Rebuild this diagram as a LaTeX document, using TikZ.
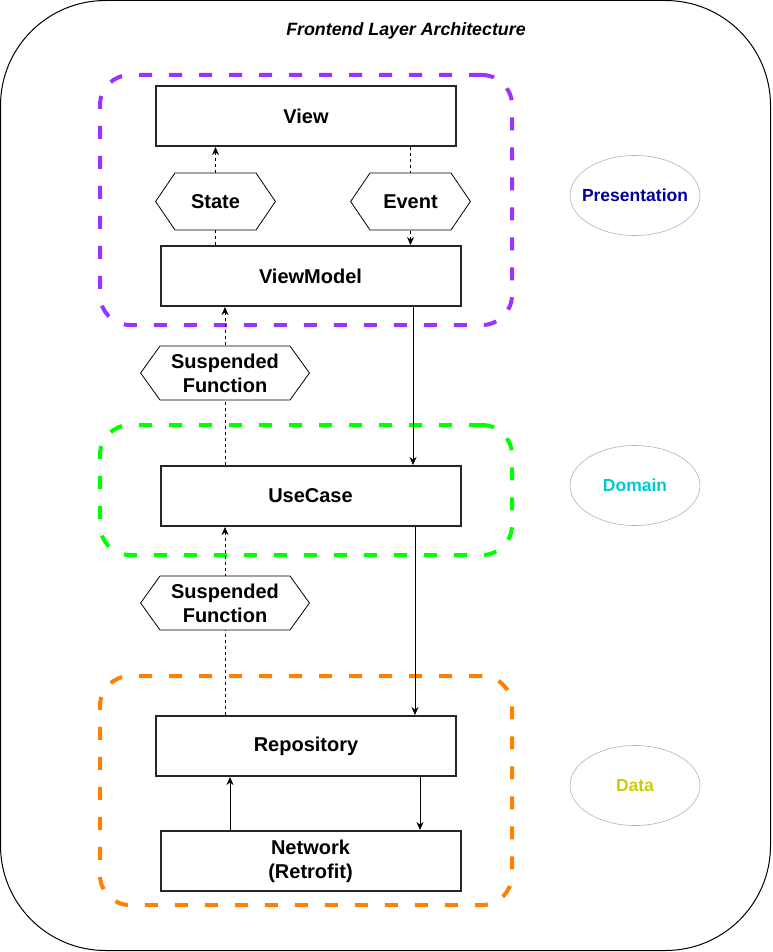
\documentclass[tikz,border=0pt]{standalone}
\usepackage{fontspec}
\setmainfont{Liberation Sans}
\usetikzlibrary{arrows.meta,shapes.geometric}
\pgfdeclarelayer{background}
\pgfsetlayers{background,main}

\definecolor{grpPurple}{HTML}{9933FF}
\definecolor{grpGreen}{HTML}{00FF00}
\definecolor{grpOrange}{HTML}{FF8000}
\definecolor{txtPresentation}{HTML}{000099}
\definecolor{txtDomain}{HTML}{00CCCC}
\definecolor{txtData}{HTML}{CCCC00}

\begin{document}
\begin{tikzpicture}[x=1pt,y=-1pt,
  every node/.style={font=\bfseries\fontsize{20}{24}\selectfont, align=center},
  box/.style={draw=black!85, line width=2pt, minimum width=300, minimum height=60, inner sep=0},
  hexbox/.style 2 args={minimum width=#1, minimum height=#2, inner sep=0,
    path picture={
      \filldraw[fill=white, draw=black, line width=0.8pt]
        ([xshift=0.6pt]path picture bounding box.west)
        -- ([xshift=20pt,yshift=-0.5pt]path picture bounding box.north west)
        -- ([xshift=-20pt,yshift=-0.5pt]path picture bounding box.north east)
        -- ([xshift=-0.6pt]path picture bounding box.east)
        -- ([xshift=-20pt,yshift=0.5pt]path picture bounding box.south east)
        -- ([xshift=20pt,yshift=0.5pt]path picture bounding box.south west)
        -- cycle;}},
  group/.style={draw=#1, line width=4pt, dash pattern=on 13pt off 17pt, rounded corners=30pt, inner sep=0},
  layer/.style={ellipse, draw=black!30, line width=0.6pt, minimum width=130, minimum height=80,
    inner xsep=-30pt, inner ysep=0pt, font=\bfseries\fontsize{17.5}{21}\selectfont, text=#1},
  flow/.style={draw=black, line width=0.8pt, -{Stealth[length=8pt,width=7pt]}},
  back/.style={flow, dash pattern=on 3pt off 3pt},
]
\useasboundingbox (0,0) rectangle (772,952);

% outer frame and title
\draw[line width=1pt, rounded corners=105pt] (0.5,0.5) rectangle (770.5,950.5);
\node (title) at (406,30.5) {\fontsize{17.8}{21}\selectfont\bfseries\itshape Frontend Layer Architecture};

% layer groups
\begin{pgfonlayer}{background}
  \node[group=grpPurple, minimum width=412, minimum height=250] (gPres) at (306,200) {};
  \node[group=grpGreen, minimum width=412, minimum height=130] (gDom) at (306,490) {};
  \node[group=grpOrange, minimum width=412, minimum height=229] (gData) at (306,790.5) {};
\end{pgfonlayer}

% components
\node[box] (view) at (306,116) {View};
\node[box] (vm) at (310.5,276) {ViewModel};
\node[box] (uc) at (310.5,496) {UseCase};
\node[box] (repo) at (306,746) {Repository};
\node[box] (net) at (310.5,861) {Network\\(Retrofit)};

% edge labels
\node[hexbox={121}{58}] (state) at (215.5,201.5) {State};
\node[hexbox={121}{58}] (event) at (410.5,201.5) {Event};
\node[hexbox={170}{55}] (sf1) at (225,373) {Suspended\\Function};
\node[hexbox={170}{55}] (sf2) at (225,603) {Suspended\\Function};

% layer names
\node[layer=txtPresentation] (lPres) at (635,195.5) {Presentation};
\node[layer=txtDomain] (lDom) at (635,485.5) {Domain};
\node[layer=txtData] (lData) at (635,785.5) {Data};

% connectors
\coordinate (vmr) at ([xshift=102.5]vm.south);
\coordinate (ucr) at ([xshift=104.5]uc.south);
\coordinate (repr) at ([xshift=114]repo.south);
\coordinate (netl) at ([xshift=-80.5]net.north);
\begin{pgfonlayer}{background}
  \draw[back] (state |- vm.north) -- (state |- view.south);
  \draw[back] (event |- view.south) -- (event |- vm.north);
  \draw[back] (sf1 |- uc.north) -- (sf1 |- vm.south);
  \draw[back] (sf2 |- repo.north) -- (sf2 |- uc.south);
  \draw[flow] (vmr) -- (vmr |- uc.north);
  \draw[flow] (ucr) -- (ucr |- repo.north);
  \draw[flow] (repr) -- (repr |- net.north);
  \draw[flow] (netl) -- (netl |- repo.south);
\end{pgfonlayer}
\end{tikzpicture}
\end{document}
